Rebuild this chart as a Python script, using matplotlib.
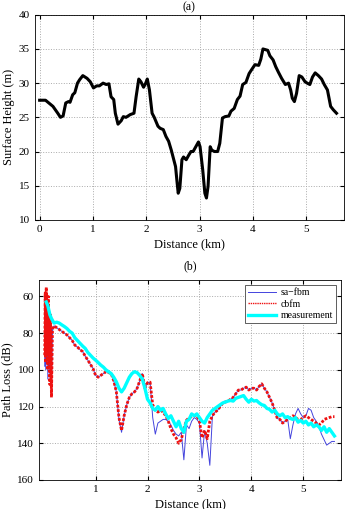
import matplotlib
matplotlib.use('Agg')
import matplotlib.pyplot as plt

plt.rcParams['font.family'] = ['Liberation Serif', 'DejaVu Serif']
plt.rcParams['font.size'] = 8

# (a) terrain profile
dist_a = [0.00, 0.11, 0.25, 0.34, 0.39, 0.44, 0.49, 0.54, 0.57, 0.62, 0.66, 0.71, 0.75, 0.81,
          0.89, 0.95, 1.01, 1.07, 1.12, 1.19, 1.25, 1.30, 1.34, 1.39, 1.42, 1.47, 1.53, 1.57,
          1.62, 1.70, 1.77, 1.81, 1.86, 1.90, 1.95, 1.99, 2.02, 2.06, 2.11, 2.15, 2.22, 2.26,
          2.32, 2.37, 2.42, 2.47, 2.51, 2.55, 2.58, 2.60, 2.63, 2.67, 2.70, 2.75, 2.80, 2.84,
          2.88, 2.93, 2.98, 3.01, 3.06, 3.10, 3.13, 3.16, 3.20, 3.23, 3.28, 3.34, 3.38, 3.43,
          3.48, 3.55, 3.59, 3.65, 3.71, 3.76, 3.81, 3.87, 3.93, 3.98, 4.04, 4.11, 4.15, 4.19,
          4.28, 4.32, 4.38, 4.43, 4.48, 4.54, 4.61, 4.67, 4.71, 4.74, 4.78, 4.82, 4.87, 4.92,
          4.98, 5.02, 5.07, 5.12, 5.17, 5.23, 5.29, 5.34, 5.40, 5.46, 5.51, 5.57]
height = [27.5, 27.5, 26.6, 25.6, 25.0, 25.2, 27.1, 27.3, 27.2, 28.3, 28.6, 30.0, 30.5, 31.1,
          30.7, 30.2, 29.3, 29.6, 29.6, 30.0, 29.8, 29.9, 28.0, 27.6, 25.6, 24.0, 24.5, 25.1,
          25.0, 25.4, 25.6, 28.0, 30.6, 30.2, 29.4, 30.0, 30.6, 29.0, 25.6, 25.0, 23.7, 23.4,
          23.2, 22.2, 21.5, 20.2, 19.0, 17.8, 15.4, 13.9, 14.6, 18.8, 19.2, 18.8, 19.5, 20.0,
          20.0, 20.7, 21.4, 20.7, 17.3, 13.9, 13.2, 14.9, 20.7, 20.2, 20.0, 20.0, 21.2, 24.9,
          25.1, 25.2, 25.9, 26.3, 27.6, 28.1, 29.8, 30.1, 31.4, 32.0, 32.7, 32.6, 33.5, 35.0,
          34.8, 34.0, 33.4, 32.4, 31.6, 30.7, 29.8, 30.0, 29.0, 27.8, 27.3, 28.5, 31.1, 30.9,
          30.2, 30.0, 29.8, 30.9, 31.5, 31.1, 30.6, 29.8, 29.0, 26.6, 26.1, 25.6]

# (b) path loss, near-transmitter part (oscillating)
dist_near = [0.02, 0.03, 0.04, 0.05, 0.06, 0.07, 0.08, 0.09, 0.10, 0.11, 0.12, 0.13, 0.14,
             0.15, 0.17]
cbfm_near = [92.0, 58.0, 96.0, 55.0, 88.0, 62.0, 100.0, 60.0, 95.0, 68.0, 108.0, 70.0,
             90.0, 115.0, 78.0]
safbm_near = [98.0, 64.0, 100.0, 62.0, 94.0, 66.0, 105.0, 65.0, 98.0, 70.0, 104.0, 72.0,
              92.0, 106.0, 78.0]
dist_meas_near = [0.05, 0.08, 0.12, 0.15]
meas_near = [63.0, 65.0, 70.0, 72.0]

# (b) path loss, rest of the route
dist_b = [0.20, 0.25, 0.30, 0.35, 0.40, 0.45, 0.50, 0.55, 0.60, 0.65, 0.70, 0.75,
          0.80, 0.85, 0.90, 0.95, 1.00, 1.05, 1.10, 1.15, 1.20, 1.25, 1.30, 1.35,
          1.40, 1.45, 1.50, 1.55, 1.60, 1.65, 1.70, 1.75, 1.80, 1.85, 1.90, 1.95,
          2.00, 2.05, 2.10, 2.15, 2.20, 2.25, 2.30, 2.35, 2.40, 2.45, 2.50, 2.55,
          2.60, 2.65, 2.70, 2.75, 2.80, 2.85, 2.90, 2.95, 3.00, 3.05, 3.10, 3.15,
          3.20, 3.25, 3.30, 3.35, 3.40, 3.45, 3.50, 3.55, 3.60, 3.65, 3.70, 3.75,
          3.80, 3.85, 3.90, 3.95, 4.00, 4.05, 4.10, 4.15, 4.20, 4.25, 4.30, 4.35,
          4.40, 4.45, 4.50, 4.55, 4.60, 4.65, 4.70, 4.75, 4.80, 4.85, 4.90, 4.95,
          5.00, 5.05, 5.10, 5.15, 5.20, 5.25, 5.30, 5.35, 5.40, 5.45, 5.50, 5.55,
          5.60]
meas = [74.5, 74.0, 74.5, 75.5, 76.4, 77.5, 79.0, 80.0, 82.5, 84.0, 85.5, 87.0,
        88.3, 90.5, 92.0, 93.5, 94.7, 96.0, 97.4, 98.5, 100.0, 101.0, 102.0, 104.0,
        106.5, 110.0, 112.0, 110.0, 107.0, 104.0, 102.0, 101.0, 101.5, 103.0, 105.0, 110.0,
        116.0, 118.0, 121.0, 122.0, 120.0, 122.0, 121.0, 124.0, 126.5, 125.0, 128.0, 131.0,
        128.0, 132.0, 134.0, 128.0, 127.0, 124.0, 125.0, 124.0, 126.0, 128.0, 129.0, 126.0,
        124.0, 122.0, 121.0, 120.0, 119.0, 118.0, 117.5, 117.0, 116.7, 117.0, 115.5, 115.0,
        114.5, 114.0, 116.0, 117.6, 116.0, 117.0, 116.7, 118.0, 119.0, 119.4, 121.0, 121.5,
        123.0, 122.0, 124.0, 125.0, 124.0, 126.0, 125.5, 126.5, 127.0, 126.0, 128.5, 127.5,
        129.0, 128.0, 130.0, 129.0, 131.0, 130.0, 131.0, 133.0, 131.0, 134.0, 132.0, 134.0,
        136.0]
cbfm = [76.0, 77.0, 78.0, 79.0, 80.0, 81.0, 82.5, 84.0, 86.5, 87.5, 89.0, 90.0,
        92.5, 94.7, 97.0, 99.2, 103.0, 104.0, 103.0, 102.0, 101.0, 101.5, 102.0, 106.0,
        112.0, 126.0, 133.0, 125.0, 119.0, 115.0, 113.0, 112.0, 110.0, 106.0, 102.0, 110.0,
        107.0, 106.7, 119.0, 122.0, 123.0, 122.0, 123.0, 125.0, 128.0, 132.0, 135.0, 137.0,
        140.0, 138.0, 132.0, 127.5, 126.0, 125.5, 125.0, 125.0, 128.0, 137.0, 133.0, 137.5,
        128.0, 125.0, 123.0, 122.0, 120.0, 118.0, 117.5, 117.0, 116.0, 115.0, 113.0, 111.0,
        111.0, 110.0, 109.4, 111.0, 110.0, 110.0, 111.0, 109.0, 107.6, 110.0, 112.0, 115.0,
        118.0, 122.0, 126.5, 127.0, 129.0, 128.0, 127.0, 126.0, 125.0, 126.0, 127.0, 127.0,
        126.0, 125.0, 126.0, 127.0, 128.0, 129.0, 130.0, 129.0, 127.0, 126.5, 126.0, 125.5,
        125.5]
safbm = [76.0, 77.0, 78.0, 79.0, 80.0, 81.0, 82.5, 84.0, 86.5, 87.5, 89.0, 90.0,
         92.5, 94.7, 97.0, 99.2, 103.0, 104.0, 103.0, 102.0, 101.0, 101.5, 102.0, 106.0,
         112.0, 127.0, 134.0, 125.0, 119.0, 115.0, 113.0, 112.0, 110.0, 106.0, 102.0, 110.0,
         107.0, 106.7, 126.0, 135.0, 129.0, 128.0, 127.0, 127.0, 128.0, 130.0, 133.0, 135.0,
         136.0, 134.0, 149.0, 130.0, 132.0, 128.0, 126.0, 127.0, 129.0, 148.0, 133.0, 140.0,
         152.0, 125.0, 123.0, 122.0, 120.0, 118.0, 117.5, 117.0, 116.0, 115.0, 113.0, 111.0,
         111.0, 110.0, 109.4, 111.0, 110.0, 110.0, 111.0, 109.0, 107.6, 110.0, 112.0, 115.0,
         118.0, 122.0, 126.5, 127.0, 129.0, 128.0, 127.0, 137.5, 130.0, 124.0, 121.0, 124.0,
         126.0, 125.0, 121.0, 122.0, 126.0, 128.0, 131.0, 135.0, 138.0, 141.0, 140.0, 139.0,
         139.0]

fig = plt.figure(figsize=(3.45, 5.09), dpi=100)

ax1 = fig.add_axes([0.101, 0.568, 0.896, 0.403])
ax1.plot(dist_a, height, color='k', lw=2.2)
ax1.set_xlim(-0.09, 5.71)
ax1.set_ylim(10, 40)
ax1.set_xticks([0, 1, 2, 3, 4, 5])
ax1.set_yticks([10, 15, 20, 25, 30, 35, 40])
ax1.set_xlabel('Distance (km)', fontsize=9, labelpad=3)
ax1.set_ylabel('Surface Height (m)', fontsize=9, labelpad=3)
ax1.set_title('(a)', fontsize=8.5, pad=3)

ax2 = fig.add_axes([0.113, 0.057, 0.876, 0.393])
ax2.plot(dist_near + dist_b, safbm_near + safbm, color='#4444dd', lw=0.7, label='sa\u2212fbm')
ax2.plot(dist_near + dist_b, cbfm_near + cbfm, color='#ee1111', lw=2.0, ls=(0, (1, 0.6)),
         label='cbfm')
ax2.plot(dist_meas_near + dist_b, meas_near + meas, color='cyan', lw=2.4, label='measurement')
ax2.set_xlim(-0.09, 5.73)
ax2.set_ylim(160, 51)
ax2.set_xticks([1, 2, 3, 4, 5])
ax2.set_yticks([60, 80, 100, 120, 140, 160])
ax2.set_xlabel('Distance (km)', fontsize=9, labelpad=3)
ax2.set_ylabel('Path Loss (dB)', fontsize=9, labelpad=3)
ax2.set_title('(b)', fontsize=8.5, pad=8)
leg = ax2.legend(loc='upper right', fontsize=7, fancybox=False, framealpha=1,
                 edgecolor='#444444', handlelength=2.8, labelspacing=0.25,
                 borderpad=0.35, handletextpad=0.5, borderaxespad=0.5)
leg.get_frame().set_linewidth(0.6)
# legend handle for cbfm: thinner dotted line
leg.get_lines()[1].set_linewidth(1.0)

for ax in (ax1, ax2):
    ax.grid(True, ls=':', color='#aaaaaa', lw=0.7)
    ax.tick_params(direction='in', top=True, right=True, labelsize=8, length=3)
    for s in ax.spines.values():
        s.set_linewidth(0.6)

fig.savefig('out.png', dpi=100)
